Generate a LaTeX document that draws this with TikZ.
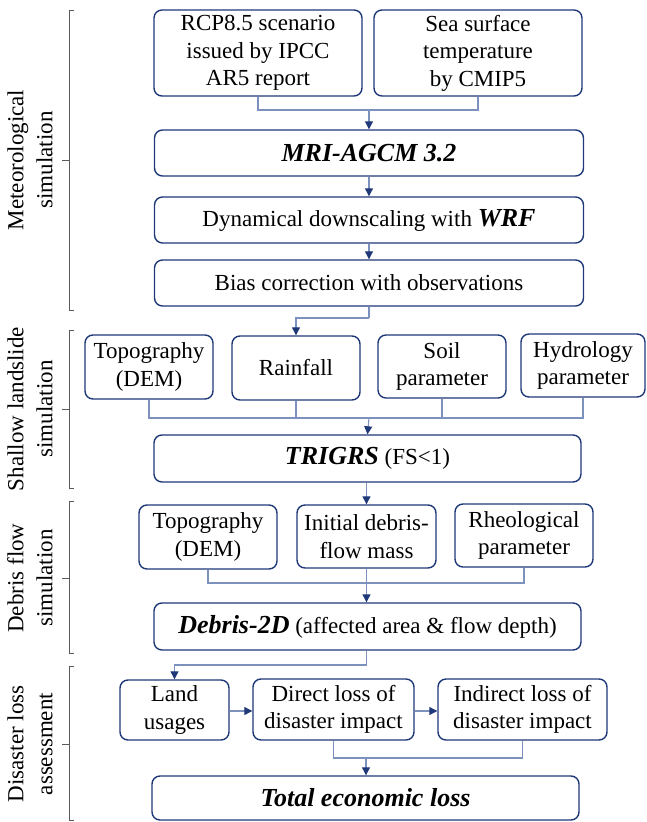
\documentclass[tikz,border=0pt]{standalone}
\usepackage{fontspec}
\setmainfont{Liberation Serif}
\usetikzlibrary{arrows.meta,calc}
\definecolor{navy}{RGB}{31,56,120}
\definecolor{lineblue}{RGB}{125,145,190}
\definecolor{brk}{RGB}{90,90,90}
\newcommand{\bi}[1]{{\fontsize{26}{30}\selectfont\bfseries\itshape #1}}
\begin{document}
\begin{tikzpicture}[x=1pt,y=-1pt,
  box/.style={draw=navy,line width=1.4pt,rounded corners=8pt,inner sep=0pt,align=center,
    font=\fontsize{23}{27.5}\selectfont},
  conn/.style={draw=lineblue,line width=1.1pt},
  arr/.style={draw=lineblue,line width=1.1pt,-{Triangle[length=8pt,width=8pt,color=navy]}},
  brack/.style={draw=brk,line width=0.9pt},
  lab/.style={rotate=90,align=center,font=\fontsize{23}{29}\selectfont,inner sep=0pt}]
\useasboundingbox (0,0) rectangle (646,822);
% Meteorological
\node[box,minimum width=208pt,minimum height=86pt] (rcp) at (258,53) {RCP8.5 scenario\\issued by IPCC\\AR5 report};
\node[box,minimum width=208pt,minimum height=86pt] (sea) at (478,53) {Sea surface\\temperature\\by CMIP5};
\node[box,minimum width=429pt,minimum height=46pt] (mri) at (369,153) {\bi{MRI-AGCM 3.2}};
\node[box,minimum width=429pt,minimum height=46pt] (dyn) at (369,220) {Dynamical downscaling with \bi{WRF}};
\node[box,minimum width=429pt,minimum height=46pt] (bias) at (369,283) {Bias correction with observations};
% Shallow landslide
\node[box,minimum width=128pt,minimum height=64pt] (topoa) at (149,367) {Topography\\(DEM)};
\node[box,minimum width=128pt,minimum height=64pt] (rain) at (296,368) {Rainfall};
\node[box,minimum width=128pt,minimum height=63pt] (soil) at (442,366.5) {Soil\\parameter};
\node[box,minimum width=124pt,minimum height=63pt] (hydro) at (583,365.5) {Hydrology\\parameter};
\node[box,minimum width=427pt,minimum height=47pt] (trig) at (367.5,458.5) {\bi{TRIGRS} (FS<1)};
% Debris flow
\node[box,minimum width=138pt,minimum height=64pt] (topob) at (208,537) {Topography\\(DEM)};
\node[box,minimum width=139pt,minimum height=63pt] (init) at (366.5,536.5) {Initial debris-\\flow mass};
\node[box,minimum width=138pt,minimum height=63pt] (rheo) at (524,535.5) {Rheological\\parameter};
\node[box,minimum width=427pt,minimum height=47pt] (dtwo) at (367.5,626.5) {\bi{Debris-2D} (affected area \& flow depth)};
% Disaster loss
\node[box,minimum width=109pt,minimum height=60pt] (land) at (174.5,710) {Land\\usages};
\node[box,minimum width=161pt,minimum height=61pt] (direct) at (333.5,709.5) {Direct loss of\\disaster impact};
\node[box,minimum width=169pt,minimum height=61pt] (indir) at (522.5,709.5) {Indirect loss of\\disaster impact};
\node[box,minimum width=427pt,minimum height=44pt] (total) at (365.5,798) {\bi{Total economic loss}};
% connectors
\coordinate (ja) at (369,110);
\draw[conn] (rcp.south) |- (ja) -| (sea.south);
\draw[arr] (ja) -- (mri.north);
\draw[arr] (mri.south) -- (dyn.north);
\draw[arr] (dyn.south) -- (bias.north);
\coordinate (jb) at (369,318);
\draw[conn] (bias.south) -- (jb);
\draw[arr] (jb) -| (rain.north);
\coordinate (jc) at (369,418);
\draw[conn] (topoa.south) |- (jc) -| (hydro.south);
\draw[conn] (rain.south) |- (jc);
\draw[conn] (soil.south) |- (jc);
\draw[arr] (jc) -- (trig.north);
\draw[arr] (trig.south -| init.north) -- (init.north);
\coordinate (jd) at (366.5,583);
\draw[conn] (topob.south) |- (jd) -| (rheo.south);
\draw[arr] (init.south) -- (dtwo.north -| init.south);
\coordinate (je) at (366.5,665);
\draw[conn] (dtwo.south -| je) -- (je);
\draw[arr] (je) -| (land.north);
\draw[arr] (land.east |- 0,711) -- (direct.west |- 0,711);
\draw[arr] (direct.east |- 0,711) -- (indir.west |- 0,711);
\coordinate (jf) at (366,758);
\draw[conn] (direct.south) |- (jf) -| (indir.south);
\draw[arr] (jf) -- (total.north -| jf);
% brackets
\draw[brack] (74,10) -- (69,10) -- (69,310) -- (74,310) (69,160) -- (62,160);
\draw[brack] (74,330) -- (69,330) -- (69,488) -- (74,488) (69,409) -- (62,409);
\draw[brack] (74,501) -- (69,501) -- (69,653) -- (74,653) (69,578) -- (62,578);
\draw[brack] (74,666) -- (69,666) -- (69,820) -- (74,820) (69,744) -- (62,744);
\node[lab] (l1) at (30,160) {Meteorological\\simulation};
\node[lab] (l2) at (30,409) {Shallow landslide\\simulation};
\node[lab] (l3) at (30,578) {Debris flow\\simulation};
\node[lab] (l4) at (30,744) {Disaster loss\\assessment};
\end{tikzpicture}
\end{document}
